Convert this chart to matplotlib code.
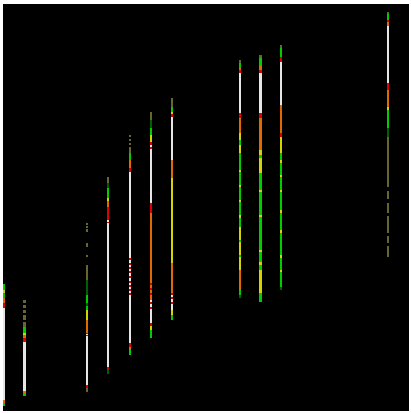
import matplotlib
matplotlib.use("Agg")
import matplotlib.pyplot as plt

# colour categories
colors = {
    "W": "#e6e6e6",  # white
    "R": "#e00000",  # red
    "O": "#e06a00",  # orange
    "Y": "#d4d400",  # yellow
    "G": "#00cc00",  # green
    "D": "#006000",  # dark green
    "V": "#66662e",  # olive (sparse)
}

# column positions
col_x = [3.5, 24.5, 87, 108, 130, 151, 172, 240, 260.5, 281, 388]

# segments per column: (start, end, category)
col1 = [(284, 290, "G"), (290, 293, "Y"), (293, 298, "G"), (298, 303, "O"), (303, 308, "R"),
        (308, 400, "W"), (400, 403, "O"), (403, 406, "G")]
col2 = [(300, 303, "V"), (305, 308, "V"), (310, 313, "V"), (315, 320, "V"), (322, 327, "V"),
        (327, 333, "G"), (333, 335, "Y"), (335, 338, "O"), (338, 342, "R"), (342, 391, "W"),
        (391, 393, "O"), (393, 396, "G")]
col3 = [(223, 225, "V"), (226, 228, "V"), (229, 232, "V"), (243, 247, "V"), (255, 257, "V"),
        (265, 280, "V"), (280, 295, "D"), (295, 303, "G"), (303, 306, "D"), (306, 310, "G"),
        (310, 320, "Y"), (320, 333, "O"), (333, 334, "R"), (334, 335, "W"), (335, 336, "R"),
        (336, 385, "W"), (385, 388, "R"), (388, 392, "V")]
col4 = [(177, 183, "V"), (183, 188, "D"), (188, 198, "G"), (198, 201, "Y"), (201, 207, "O"),
        (207, 220, "R"), (220, 222, "W"), (222, 223, "R"), (223, 367, "W"), (367, 370, "R"),
        (370, 374, "D")]
col5 = [(135, 137, "V"), (139, 141, "V"), (143, 145, "V"), (147, 153, "V"), (153, 160, "G"),
        (160, 168, "O"), (168, 172, "R"), (172, 258, "W"),
        (258, 260, "R"), (260, 263, "W"), (263, 265, "R"), (265, 267, "W"), (267, 269, "R"),
        (269, 271, "W"), (271, 273, "R"), (273, 276, "W"), (276, 278, "R"), (278, 281, "W"),
        (281, 283, "R"), (283, 285, "W"), (285, 287, "R"), (287, 289, "W"), (289, 291, "R"),
        (291, 293, "W"), (293, 295, "R"), (295, 343, "W"), (343, 347, "R"), (347, 350, "O"),
        (350, 355, "G")]
col6 = [(112, 120, "V"), (120, 128, "D"), (128, 135, "G"), (135, 142, "Y"), (142, 145, "R"),
        (145, 147, "W"), (147, 149, "R"), (149, 203, "W"), (203, 213, "R"), (213, 283, "O"),
        (283, 285, "R"), (285, 288, "O"), (288, 290, "R"), (290, 293, "O"), (293, 295, "R"),
        (295, 300, "O"), (300, 302, "W"), (302, 304, "R"), (304, 307, "W"), (307, 309, "R"),
        (309, 323, "W"), (323, 326, "R"), (326, 330, "Y"), (330, 338, "G")]
col7 = [(98, 107, "V"), (107, 112, "G"), (112, 114, "Y"), (114, 117, "R"), (117, 160, "W"),
        (160, 178, "O"), (178, 263, "Y"), (263, 293, "O"), (293, 295, "R"), (295, 297, "W"),
        (297, 299, "R"), (299, 302, "W"), (302, 304, "R"), (304, 310, "W"), (310, 315, "Y"),
        (315, 320, "G")]
col8 = [(60, 63, "V"), (63, 68, "G"), (68, 70, "O"), (70, 73, "R"), (73, 113, "W"),
        (113, 118, "R"), (118, 133, "O"), (133, 140, "Y"), (140, 145, "G"), (145, 153, "Y"),
        (153, 170, "G"), (170, 172, "Y"), (172, 185, "G"), (185, 187, "Y"), (187, 200, "G"),
        (200, 202, "Y"), (202, 215, "G"), (215, 218, "Y"), (218, 227, "G"), (227, 240, "Y"),
        (240, 242, "G"), (242, 255, "Y"), (255, 257, "G"), (257, 270, "Y"), (270, 290, "O"),
        (290, 295, "G"), (295, 298, "D")]
col9 = [(55, 58, "V"), (58, 65, "G"), (65, 70, "O"), (70, 73, "R"), (73, 113, "W"),
        (113, 118, "R"), (118, 150, "O"), (150, 155, "Y"), (155, 158, "G"), (158, 173, "Y"),
        (173, 190, "G"), (190, 192, "Y"), (192, 215, "G"), (215, 217, "Y"), (217, 250, "G"),
        (250, 252, "Y"), (252, 262, "G"), (262, 265, "Y"), (265, 270, "G"), (270, 293, "Y"),
        (293, 302, "G")]
col10 = [(45, 48, "V"), (48, 57, "G"), (57, 62, "R"), (62, 105, "W"), (105, 133, "O"),
         (133, 137, "R"), (137, 153, "Y"), (153, 160, "G"), (160, 163, "Y"), (163, 175, "G"),
         (175, 177, "Y"), (177, 190, "G"), (190, 192, "Y"), (192, 210, "G"), (210, 213, "Y"),
         (213, 230, "G"), (230, 233, "Y"), (233, 255, "G"), (255, 258, "Y"), (258, 270, "G"),
         (270, 272, "Y"), (272, 287, "G"), (287, 290, "D")]
col11 = [(12, 14, "V"), (14, 20, "G"), (20, 22, "R"), (22, 26, "O"), (26, 83, "W"),
         (83, 90, "R"), (90, 107, "O"), (107, 110, "Y"), (110, 128, "G"), (128, 137, "D"),
         (137, 187, "V"), (191, 199, "V"), (203, 213, "V"), (216, 233, "V"), (236, 243, "V"),
         (246, 257, "V")]

columns = [col1, col2, col3, col4, col5, col6, col7, col8, col9, col10, col11]

fig = plt.figure(figsize=(4.11, 4.13), dpi=100, facecolor="white")
ax = fig.add_axes([3 / 411, 2 / 413, 406 / 411, 407 / 413])
ax.set_facecolor("black")

for x, segs in zip(col_x, columns):
    xs = [x] * len(segs)
    bottoms = [s[0] for s in segs]
    heights = [s[1] - s[0] for s in segs]
    cols = [colors[s[2]] for s in segs]
    ax.bar(xs, heights, bottom=bottoms, width=2.9, color=cols, linewidth=0, align="center")

ax.set_xlim(3, 409)
ax.set_ylim(411, 4)
ax.set_xticks([])
ax.set_yticks([])
for sp in ax.spines.values():
    sp.set_visible(False)

fig.savefig("out.png", dpi=100, facecolor="white")
